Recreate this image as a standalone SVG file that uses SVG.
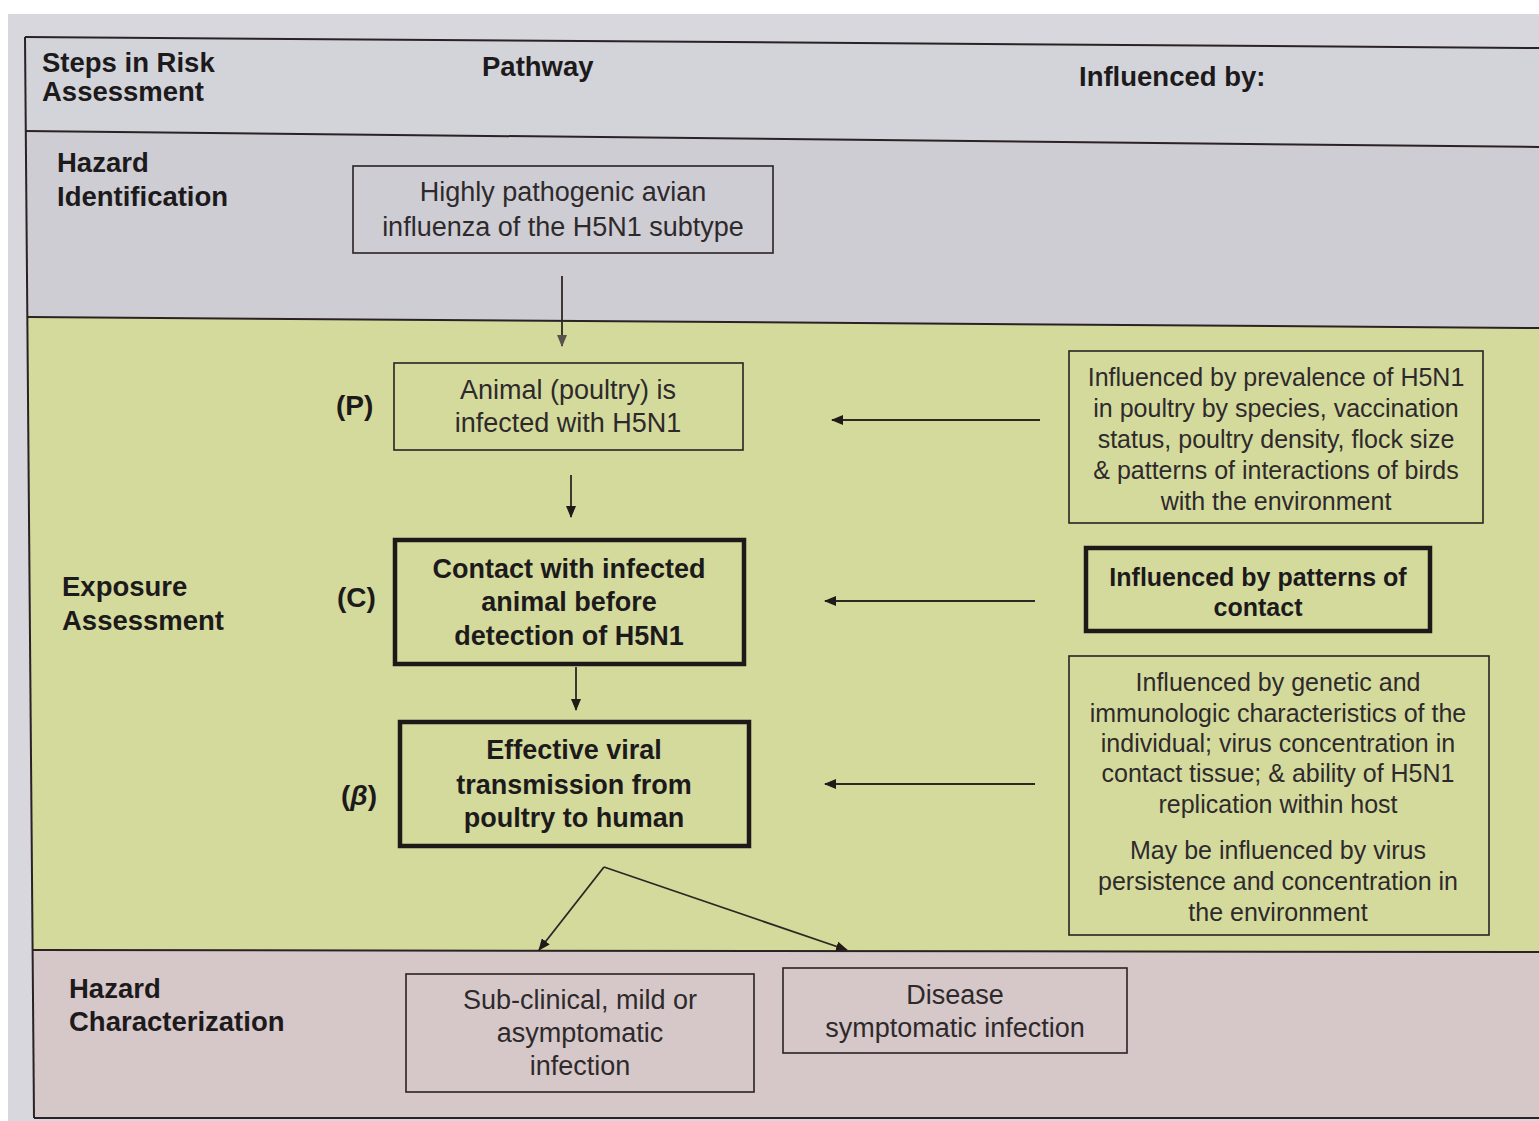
<svg xmlns="http://www.w3.org/2000/svg" width="1539" height="1121" viewBox="0 0 1539 1121">
<defs>
<style>
.hd{font-family:"Liberation Sans",Arial,sans-serif;font-weight:bold;font-size:27.5px;fill:#1d1a1c}
.lb{font-family:"Liberation Sans",Arial,sans-serif;font-weight:bold;font-size:28px;fill:#1d1a1c}
.tx{font-family:"Liberation Sans",Arial,sans-serif;font-size:27px;fill:#2e2a2c;text-anchor:middle}
.tr{font-family:"Liberation Sans",Arial,sans-serif;font-size:25px;fill:#2e2a2c;text-anchor:middle}
.tb{font-family:"Liberation Sans",Arial,sans-serif;font-weight:bold;font-size:27px;fill:#1d1a1c;text-anchor:middle}
.tb2{font-family:"Liberation Sans",Arial,sans-serif;font-weight:bold;font-size:25px;fill:#1d1a1c;text-anchor:middle}
.thin{fill:none;stroke:#2a2224;stroke-width:1.6}
.thick{fill:none;stroke:#1e1818;stroke-width:4.5}
.rule{fill:none;stroke:#2a2224;stroke-width:2}
.con{fill:none;stroke:#2e2622;stroke-width:1.8}
</style>
<marker id="ah" viewBox="0 0 12 10" refX="11" refY="5" markerWidth="12" markerHeight="10" markerUnits="userSpaceOnUse" orient="auto">
<path d="M0,0 L12,5 L0,10 Z" fill="#221a18"/>
</marker>
<marker id="ahg" viewBox="0 0 12 10" refX="11" refY="5" markerWidth="12" markerHeight="10" markerUnits="userSpaceOnUse" orient="auto">
<path d="M0,0 L12,5 L0,10 Z" fill="#5a524c"/>
</marker>
</defs>
<rect x="0" y="0" width="1539" height="1121" fill="#ffffff"/>
<rect x="8" y="14" width="1531" height="1107" fill="#d7d7dd"/>
<g id="table">
<polygon points="25,37 1539,48 1539,147 25,131" fill="#d3d3da"/>
<polygon points="25,131 1539,147 1539,328 28,317" fill="#cecdd4"/>
<polygon points="28,317 1539,328 1539,952 33,950" fill="#d4da9c"/>
<polygon points="33,950 1539,952 1539,1118 34,1118" fill="#d6c7c9"/>
<line class="rule" x1="25" y1="37" x2="1539" y2="48"/>
<line class="rule" x1="25" y1="131" x2="1539" y2="147"/>
<line class="rule" x1="28" y1="317" x2="1539" y2="328"/>
<line class="rule" x1="33" y1="950" x2="1539" y2="952"/>
<line class="rule" x1="34" y1="1118" x2="1539" y2="1118"/>
<line class="rule" x1="25" y1="37" x2="34" y2="1118"/>
</g>
<g id="header-steps"><text class="hd" x="42" y="72">Steps in Risk</text><text class="hd" x="42" y="101">Assessment</text></g>
<g id="header-pathway"><text class="hd" x="482" y="76">Pathway</text></g>
<g id="header-influenced"><text class="hd" x="1079" y="86">Influenced by:</text></g>
<g id="label-hazard-id"><text class="hd" x="57" y="172">Hazard</text><text class="hd" x="57" y="206">Identification</text></g>
<g id="label-exposure"><text class="hd" x="62" y="596">Exposure</text><text class="hd" x="62" y="630">Assessment</text></g>
<g id="label-hazard-char"><text class="hd" x="69" y="998">Hazard</text><text class="hd" x="69" y="1031">Characterization</text></g>
<g id="label-p"><text class="lb" x="336" y="415">(P)</text></g>
<g id="label-c"><text class="lb" x="337" y="607">(C)</text></g>
<g id="label-b"><text class="lb" x="341" y="805">(<tspan font-style="italic">β</tspan>)</text></g>
<g id="node-hpai">
<rect class="thin" x="353" y="166" width="420" height="87"/>
<text class="tx" x="563" y="201">Highly pathogenic avian</text>
<text class="tx" x="563" y="236">influenza of the H5N1 subtype</text>
</g>
<g id="node-poultry">
<rect class="thin" x="394" y="363" width="349" height="87"/>
<text class="tx" x="568" y="399">Animal (poultry) is</text>
<text class="tx" x="568" y="432">infected with H5N1</text>
</g>
<g id="node-contact">
<rect class="thick" x="395" y="540" width="349" height="124"/>
<text class="tb" x="569" y="578">Contact with infected</text>
<text class="tb" x="569" y="611">animal before</text>
<text class="tb" x="569" y="645">detection of H5N1</text>
</g>
<g id="node-transmission">
<rect class="thick" x="400" y="722" width="349" height="124"/>
<text class="tb" x="574" y="759">Effective viral</text>
<text class="tb" x="574" y="794">transmission from</text>
<text class="tb" x="574" y="827">poultry to human</text>
</g>
<g id="node-inf-prevalence">
<rect class="thin" x="1069" y="351" width="414" height="172"/>
<text class="tr" x="1276" y="386">Influenced by prevalence of H5N1</text>
<text class="tr" x="1276" y="417">in poultry by species, vaccination</text>
<text class="tr" x="1276" y="448">status, poultry density, flock size</text>
<text class="tr" x="1276" y="479">&amp; patterns of interactions of birds</text>
<text class="tr" x="1276" y="510">with the environment</text>
</g>
<g id="node-inf-contact">
<rect class="thick" x="1086" y="548" width="344" height="83"/>
<text class="tb2" x="1258" y="586">Influenced by patterns of</text>
<text class="tb2" x="1258" y="616">contact</text>
</g>
<g id="node-inf-genetic">
<rect class="thin" x="1069" y="656" width="420" height="279"/>
<text class="tr" x="1278" y="691">Influenced by genetic and</text>
<text class="tr" x="1278" y="722">immunologic characteristics of the</text>
<text class="tr" x="1278" y="752">individual; virus concentration in</text>
<text class="tr" x="1278" y="782">contact tissue; &amp; ability of H5N1</text>
<text class="tr" x="1278" y="813">replication within host</text>
<text class="tr" x="1278" y="859">May be influenced by virus</text>
<text class="tr" x="1278" y="890">persistence and concentration in</text>
<text class="tr" x="1278" y="921">the environment</text>
</g>
<g id="node-subclinical">
<rect class="thin" x="406" y="974" width="348" height="118"/>
<text class="tx" x="580" y="1009">Sub-clinical, mild or</text>
<text class="tx" x="580" y="1042">asymptomatic</text>
<text class="tx" x="580" y="1075">infection</text>
</g>
<g id="node-disease">
<rect class="thin" x="783" y="968" width="344" height="85"/>
<text class="tx" x="955" y="1004">Disease</text>
<text class="tx" x="955" y="1037">symptomatic infection</text>
</g>
<g id="connectors">
<line class="con" x1="562" y1="276" x2="562" y2="346" stroke="#4e4640" marker-end="url(#ahg)"/>
<line class="con" x1="571" y1="475" x2="571" y2="517" marker-end="url(#ah)"/>
<line class="con" x1="576" y1="667" x2="576" y2="710" marker-end="url(#ah)"/>
<line class="con" x1="1040" y1="420" x2="832" y2="420" marker-end="url(#ah)"/>
<line class="con" x1="1035" y1="601" x2="825" y2="601" marker-end="url(#ah)"/>
<line class="con" x1="1035" y1="784" x2="825" y2="784" marker-end="url(#ah)"/>
<line class="con" x1="604" y1="867" x2="539" y2="950" marker-end="url(#ah)"/>
<line class="con" x1="604" y1="867" x2="847" y2="950" marker-end="url(#ah)"/>
</g>
</svg>
